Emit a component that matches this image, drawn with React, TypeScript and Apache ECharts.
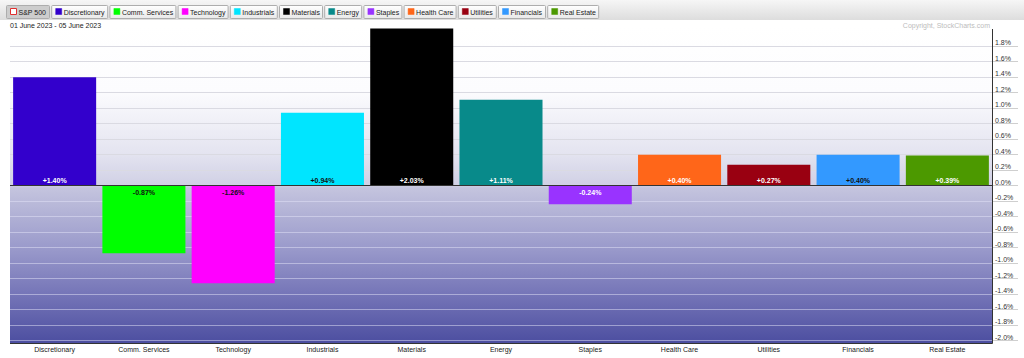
import React, { useEffect, useRef } from 'react';
import * as echarts from 'echarts';

const categories = ['Discretionary', 'Comm. Services', 'Technology', 'Industrials', 'Materials', 'Energy', 'Staples', 'Health Care', 'Utilities', 'Financials', 'Real Estate'];
const changes = [1.40, -0.87, -1.26, 0.94, 2.03, 1.11, -0.24, 0.40, 0.27, 0.40, 0.39];
const barColors = ['#3300cc', '#00ff00', '#ff00ff', '#00e5ff', '#000000', '#088a8a', '#9933ff', '#ff6619', '#990011', '#3399ff', '#4c9900'];
const labelColors = ['#ffffff', '#111111', '#111111', '#111111', '#ffffff', '#ffffff', '#ffffff', '#ffffff', '#ffffff', '#111111', '#ffffff'];
const yTicks = [-2.0, -1.8, -1.6, -1.4, -1.2, -1.0, -0.8, -0.6, -0.4, -0.2, 0.0, 0.2, 0.4, 0.6, 0.8, 1.0, 1.2, 1.4, 1.6, 1.8];
const benchmark = 'S&P 500';
const dateRange = '01 June 2023 - 05 June 2023';
const copyright = 'Copyright, StockCharts.com';

const W = 1024;
const H = 358;
const PLOT_L = 10;
const PLOT_R = 992;
const PLOT_T = 30.7;
const PLOT_B = 340.7;
const FONT = '"Liberation Sans", Arial, sans-serif';

function measure(text: string, size: number): number {
  const c = document.createElement('canvas').getContext('2d');
  if (!c) return text.length * size * 0.5;
  c.font = `${size}px ${FONT}`;
  return c.measureText(text).width;
}

function buildHeader(): any[] {
  const els: any[] = [];
  els.push({
    type: 'rect', z: 1,
    shape: { x: 0, y: 0, width: W, height: 20 },
    style: {
      fill: new echarts.graphic.LinearGradient(0, 0, 0, 1, [
        { offset: 0, color: '#f6f6f6' },
        { offset: 1, color: '#dddddd' },
      ]),
    },
    silent: true,
  });
  const items = [benchmark, ...categories];
  let x = 6;
  items.forEach((name, i) => {
    const tw = measure(name, 7);
    const w = Math.round(tw + 15);
    const pressed = i === 0;
    els.push({
      type: 'rect', z: 2,
      shape: { x: x + 0.5, y: 5.5, width: w, height: 13, r: 1 },
      style: {
        fill: pressed
          ? '#cdcdcd'
          : new echarts.graphic.LinearGradient(0, 0, 0, 1, [
              { offset: 0, color: '#ffffff' },
              { offset: 1, color: '#e9e9e9' },
            ]),
        stroke: '#adadad',
        lineWidth: 1,
      },
      silent: true,
    });
    els.push({
      type: 'rect', z: 3,
      shape: { x: x + 4.5, y: 8.5, width: 6, height: 6 },
      style: pressed
        ? { fill: '#ffffff', stroke: '#e03030', lineWidth: 1 }
        : { fill: barColors[i - 1], stroke: barColors[i - 1], lineWidth: 0.5 },
      silent: true,
    });
    els.push({
      type: 'text', z: 3,
      x: x + 12.5, y: 12,
      style: {
        text: name,
        fontSize: 7,
        fontFamily: FONT,
        fill: '#1a1a1a',
        textAlign: 'left',
        textVerticalAlign: 'middle',
      },
      silent: true,
    });
    x += w + 2.2;
  });
  els.push({
    type: 'text', z: 3, x: 10, y: 25,
    style: { text: dateRange, fontSize: 7, fontFamily: FONT, fill: '#222222', textAlign: 'left', textVerticalAlign: 'middle' },
    silent: true,
  });
  els.push({
    type: 'text', z: 3, x: 990, y: 25,
    style: { text: copyright, fontSize: 7, fontFamily: FONT, fill: '#bdbdbd', textAlign: 'right', textVerticalAlign: 'middle' },
    silent: true,
  });
  // plot background
  els.push({
    type: 'rect', z: -10,
    shape: { x: PLOT_L, y: 27, width: PLOT_R - PLOT_L, height: 343 - 27 },
    style: {
      fill: new echarts.graphic.LinearGradient(0, 0, 0, 1, [
        { offset: 0, color: '#ffffff' },
        { offset: 0.2, color: '#fcfcfe' },
        { offset: 0.4, color: '#e4e4f0' },
        { offset: 0.5, color: '#d0d0e5' },
        { offset: 0.51, color: '#c4c4de' },
        { offset: 0.7, color: '#9a9acb' },
        { offset: 0.85, color: '#7474b7' },
        { offset: 1, color: '#4c4ea0' },
      ]),
    },
    silent: true,
  });
  els.push({
    type: 'line', z: 20,
    shape: { x1: PLOT_L, y1: 343.5, x2: PLOT_R + 0.5, y2: 343.5 },
    style: { stroke: '#333333', lineWidth: 1 },
    silent: true,
  });
  els.push({
    type: 'line', z: 20,
    shape: { x1: PLOT_R + 0.5, y1: 29, x2: PLOT_R + 0.5, y2: 343.5 },
    style: { stroke: '#333333', lineWidth: 1 },
    silent: true,
  });
  return els;
}

export default function App() {
  const ref = useRef<HTMLDivElement>(null);
  useEffect(() => {
    if (!ref.current) return;
    const chart = echarts.init(ref.current, undefined, { renderer: 'svg' });
    const splitColors = yTicks.map((v) =>
      Math.abs(v) < 1e-9 ? 'rgba(0,0,0,0)' : v > 0 ? '#dadae2' : 'rgba(228,228,248,0.5)'
    );
    chart.setOption({
      animation: false,
      backgroundColor: '#ffffff',
      textStyle: { fontFamily: FONT },
      grid: {
        left: PLOT_L,
        right: W - PLOT_R,
        top: PLOT_T,
        bottom: H - PLOT_B,
        containLabel: false,
        outerBoundsMode: 'none',
      },
      graphic: { elements: buildHeader() },
      xAxis: {
        type: 'category',
        data: categories,
        axisLine: { show: false },
        axisTick: { show: false },
        axisLabel: { interval: 0, margin: 5, fontSize: 7, color: '#222222', fontFamily: FONT },
        splitLine: { show: false },
      },
      yAxis: {
        type: 'value',
        position: 'right',
        min: -2.0,
        max: 2.0,
        interval: 0.2,
        axisLine: { show: false },
        axisTick: {
          show: true,
          length: 26,
          customValues: yTicks,
          lineStyle: { color: '#cfcfcf', width: 1 },
        },
        axisLabel: {
          customValues: yTicks,
          margin: 3,
          fontSize: 7,
          color: '#333333',
          fontFamily: FONT,
          verticalAlign: 'bottom',
          formatter: (v: number) => v.toFixed(1) + '%',
        },
        splitLine: {
          show: true,
          customValues: yTicks,
          lineStyle: { color: splitColors, width: 1 },
        },
      },
      series: [
        {
          type: 'bar',
          barCategoryGap: '7%',
          clip: false,
          data: changes.map((v, i) => ({
            value: v,
            itemStyle: { color: barColors[i] },
            label: {
              show: true,
              position: v >= 0 ? 'insideBottom' : 'insideTop',
              distance: v >= 0 ? 2 : 3,
              color: labelColors[i],
            },
          })),
          label: {
            show: true,
            fontSize: 7,
            fontWeight: 'bold',
            fontFamily: FONT,
            formatter: (p: any) => (p.value > 0 ? '+' : '') + Number(p.value).toFixed(2) + '%',
          },
          markLine: {
            silent: true,
            symbol: ['none', 'none'],
            label: { show: false },
            lineStyle: { color: '#333333', width: 1, type: 'solid' },
            data: [{ yAxis: 0 }],
          },
        },
      ],
    });
    return () => chart.dispose();
  }, []);
  return (
    <div
      ref={ref}
      style={{ position: 'absolute', left: 0, top: 0, width: W, height: H }}
    />
  );
}
